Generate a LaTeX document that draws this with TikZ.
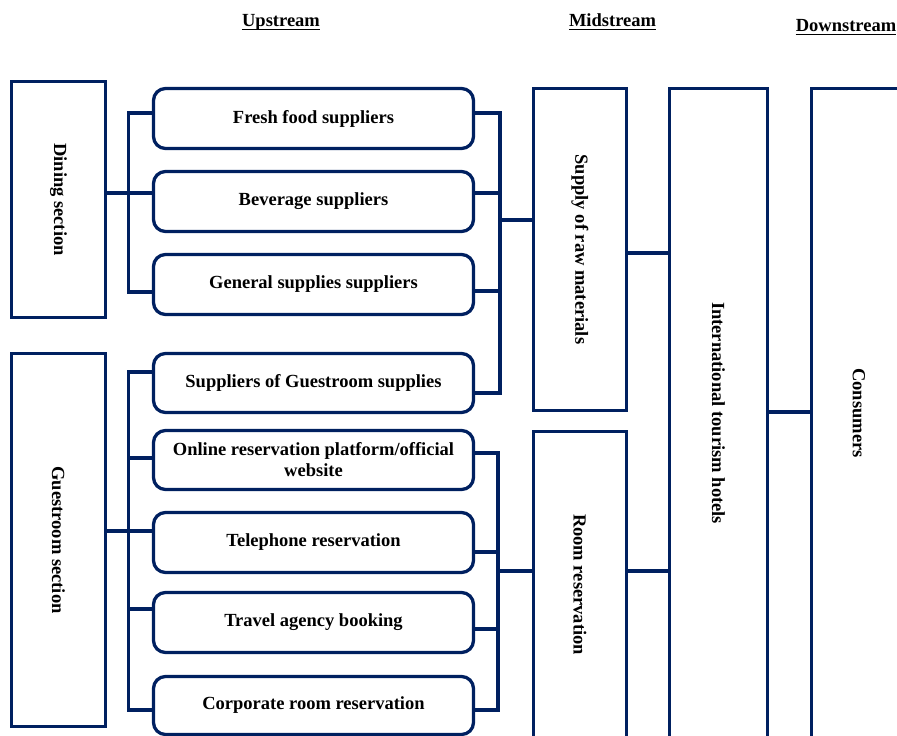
\documentclass[tikz,border=0pt]{standalone}
\usepackage{fontspec}
\setmainfont{Liberation Serif}
\usepackage{graphicx}
\definecolor{navy}{RGB}{0,32,96}
\begin{document}
\begin{tikzpicture}[x=1pt,y=-1pt,
  txt/.style={font=\fontsize{18.5}{21}\selectfont\bfseries},
  box/.style={txt,draw=navy,line width=3.3pt,inner sep=0pt,align=center},
  rbox/.style={box,rounded corners=12pt,minimum width=320pt,minimum height=60pt},
  vbox/.style={box},
  conn/.style={draw=navy,line width=3.3pt},
  head/.style={txt,anchor=base,inner sep=0pt},
  uline/.style={draw=black,line width=1.8pt}]
\useasboundingbox (0,0) rectangle (897,736);
\clip (0,0) rectangle (897,736);

% headers
\node[head] (up) at (281,26.5) {Upstream};
\node[head] (mid) at (612.5,26.5) {Midstream};
\node[head] (down) at (846,31.5) {Downstream};
\draw[uline] ([yshift=-3pt]up.base west) -- ([yshift=-3pt]up.base east);
\draw[uline] ([yshift=-3pt]mid.base west) -- ([yshift=-3pt]mid.base east);
\draw[uline] ([yshift=-3pt]down.base west) -- ([yshift=-3pt]down.base east);

% sections
\node[vbox,minimum width=94pt,minimum height=236pt] (dining) at (58.5,199.5) {\rotatebox{-90}{Dining section}};
\node[vbox,minimum width=94pt,minimum height=373pt] (guest) at (58.5,540) {\rotatebox{-90}{Guestroom section}};

% upstream items
\node[rbox] (fresh) at (313.5,118.5) {Fresh food suppliers};
\node[rbox] (bev) at (313.5,201.5) {Beverage suppliers};
\node[rbox] (gen) at (313.5,284.5) {General supplies suppliers};
\node[rbox,minimum height=59pt] (grsup) at (313.5,383) {Suppliers of Guestroom supplies};
\node[rbox,minimum height=59pt] (online) at (313.5,460) {Online reservation platform/official\\website};
\node[rbox] (tel) at (313.5,542.5) {Telephone reservation};
\node[rbox] (travel) at (313.5,622.5) {Travel agency booking};
\node[rbox,minimum height=58pt] (corp) at (313.5,705.5) {Corporate room reservation};

% midstream
\node[vbox,minimum width=93pt,minimum height=322pt] (supply) at (580,249.5) {\rotatebox{-90}{Supply of raw materials}};
\node[vbox,minimum width=93pt,minimum height=306pt] (room) at (580,584.5) {\rotatebox{-90}{Room reservation}};
\node[vbox,minimum width=98pt,minimum height=649pt] (hotels) at (718.5,413) {\rotatebox{-90}{International tourism hotels}};

% downstream
\node[vbox,minimum width=95pt,minimum height=649pt] (cons) at (859,413) {\rotatebox{-90}{Consumers}};

% spines
\coordinate (dsp) at (128.5,0);
\coordinate (gsp) at (128.5,0);
\coordinate (ssp) at (500,0);
\coordinate (rsp) at (498,0);

% dining bracket
\draw[conn] (fresh.west |- 0,113) -- (dsp |- 0,113) -- (dsp |- 0,292) -- (gen.west |- 0,292);
\draw[conn] (dining.east |- 0,193) -- (bev.west |- 0,193);

% guestroom bracket
\draw[conn] (grsup.west |- 0,372) -- (gsp |- 0,372) -- (gsp |- 0,710) -- (corp.west |- 0,710);
\draw[conn] (gsp |- 0,458) -- (online.west |- 0,458);
\draw[conn] (guest.east |- 0,531) -- (tel.west |- 0,531);
\draw[conn] (gsp |- 0,609) -- (travel.west |- 0,609);

% supply bracket
\draw[conn] (fresh.east |- 0,113) -- (ssp |- 0,113) -- (ssp |- 0,393) -- (grsup.east |- 0,393);
\draw[conn] (bev.east |- 0,193) -- (ssp |- 0,193);
\draw[conn] (gen.east |- 0,291) -- (ssp |- 0,291);
\draw[conn] (ssp |- 0,220) -- (supply.west |- 0,220);

% room bracket
\draw[conn] (online.east |- 0,453) -- (rsp |- 0,453) -- (rsp |- 0,710) -- (corp.east |- 0,710);
\draw[conn] (tel.east |- 0,552) -- (rsp |- 0,552);
\draw[conn] (travel.east |- 0,629) -- (rsp |- 0,629);
\draw[conn] (rsp |- 0,571) -- (room.west |- 0,571);

% to hotels and consumers
\draw[conn] (supply.east |- 0,253) -- (hotels.west |- 0,253);
\draw[conn] (room.east |- 0,571) -- (hotels.west |- 0,571);
\draw[conn] (hotels.east |- 0,412) -- (cons.west |- 0,412);
\end{tikzpicture}
\end{document}
